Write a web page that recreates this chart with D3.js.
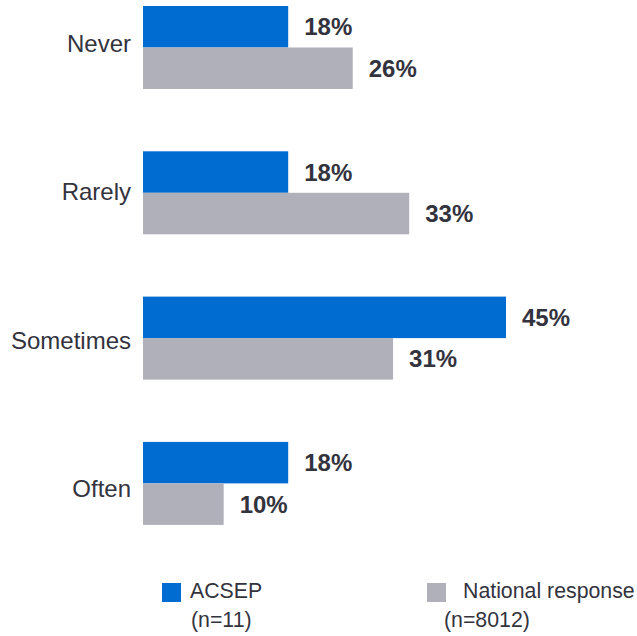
<!DOCTYPE html>
<html><head><meta charset="utf-8">
<script src="https://cdn.jsdelivr.net/npm/d3@7"></script>
<style>body{margin:0;background:#fff}svg{display:block}</style>
</head><body>
<script>
const categories = ["Never", "Rarely", "Sometimes", "Often"];
const seriesNames = ["ACSEP", "National response"];
const seriesNotes = ["(n=11)", "(n=8012)"];
const acsep = [18, 18, 45, 18];
const national = [26, 33, 31, 10];
const colors = ["#006bd0", "#b0b0bb"];
const textColor = "#33333d";

const W = 637, H = 636;
const svg = d3.select("body").append("svg").attr("width", W).attr("height", H)
  .style("font-family", "'Liberation Sans', Arial, sans-serif");

const x = d3.scaleLinear().domain([0, 45]).range([143, 506]);
const yC = d3.scalePoint().domain(categories).range([47.5, 483.4]);
const yLabel = d3.scalePoint().domain(categories).range([43.3, 488.7]);
const inner = d3.scaleBand().domain(seriesNames).range([-41.5, 41.5]);

const data = [acsep, national];
categories.forEach((c, i) => {
  seriesNames.forEach((s, j) => {
    const v = data[j][i];
    const y0 = yC(c) + inner(s);
    svg.append("rect").attr("x", x(0)).attr("y", y0)
      .attr("width", x(v) - x(0)).attr("height", inner.bandwidth())
      .attr("fill", colors[j]);
    svg.append("text").attr("x", x(v) + 16).attr("y", y0 + inner.bandwidth() / 2)
      .attr("dy", "0.36em").attr("font-size", 24).attr("font-weight", "bold")
      .attr("fill", textColor).text(v + "%");
  });
  svg.append("text").attr("x", 131).attr("y", yLabel(c)).attr("dy", "0.36em")
    .attr("text-anchor", "end").attr("font-size", 24).attr("fill", textColor).text(c);
});

// legend
const legX = [162, 427], legTextX = [190, 463], noteX = [191, 444];
seriesNames.forEach((s, j) => {
  svg.append("rect").attr("x", legX[j]).attr("y", 583).attr("width", 19).attr("height", 19).attr("fill", colors[j]);
  svg.append("text").attr("x", legTextX[j]).attr("y", 598).attr("font-size", 21.3).attr("fill", textColor).text(s);
  svg.append("text").attr("x", noteX[j]).attr("y", 627).attr("font-size", 21.3).attr("fill", textColor).text(seriesNotes[j]);
});
</script>
</body></html>
